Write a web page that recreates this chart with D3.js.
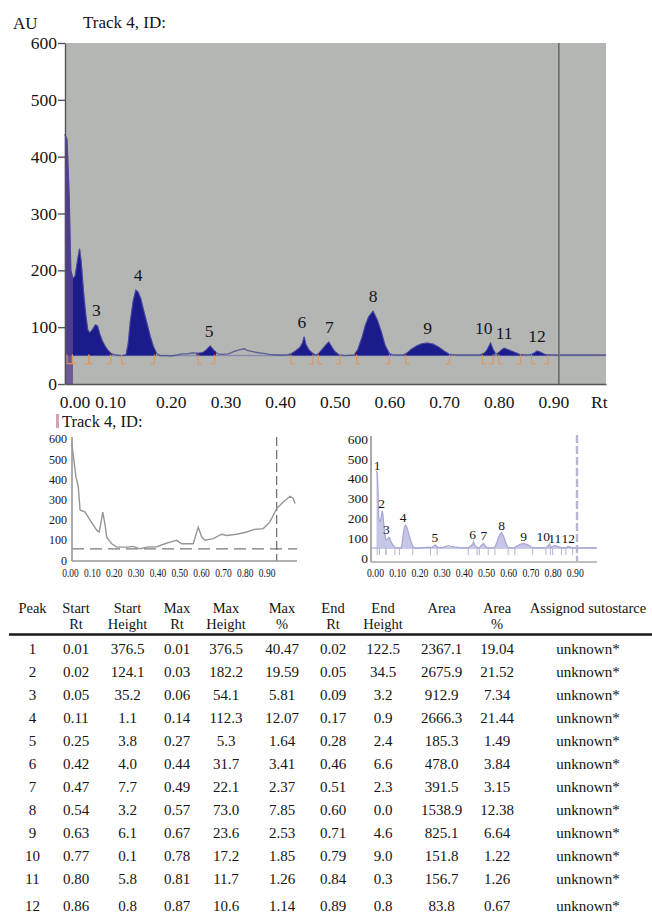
<!DOCTYPE html>
<html>
<head>
<meta charset="utf-8">
<script src="https://cdn.jsdelivr.net/npm/d3@7"></script>
<style>
  body { margin: 0; background: #fff; }
  svg, svg text { font-family: "Liberation Serif", "Times New Roman", Times, "DejaVu Serif", serif !important; }
  svg text { fill: #141414; }
</style>
</head>
<body>
<svg id="fig" width="652" height="920" font-family="Liberation Serif, Times New Roman, serif"></svg>
<script>
// densitogram of track 4 (Rt, AU)
const traceRt = [0.006, 0.010, 0.014, 0.017, 0.021, 0.025, 0.029, 0.033, 0.036, 0.040, 0.044, 0.048,
  0.052, 0.057, 0.062, 0.066, 0.070, 0.075, 0.080, 0.086, 0.092, 0.100, 0.110, 0.118, 0.122, 0.126,
  0.131, 0.136, 0.140, 0.145, 0.150, 0.156, 0.162, 0.168, 0.174, 0.180, 0.190, 0.200, 0.210, 0.220,
  0.230, 0.240, 0.250, 0.258, 0.265, 0.272, 0.278, 0.286, 0.295, 0.305, 0.315, 0.325, 0.335, 0.340,
  0.350, 0.360, 0.370, 0.380, 0.395, 0.410, 0.420, 0.428, 0.436, 0.441, 0.444, 0.447, 0.452, 0.458,
  0.465, 0.470, 0.478, 0.485, 0.489, 0.494, 0.500, 0.508, 0.520, 0.535, 0.542, 0.550, 0.556, 0.562,
  0.570, 0.578, 0.585, 0.592, 0.600, 0.610, 0.625, 0.633, 0.640, 0.650, 0.660, 0.670, 0.680, 0.690,
  0.700, 0.710, 0.725, 0.745, 0.765, 0.775, 0.780, 0.785, 0.790, 0.795, 0.800, 0.805, 0.810, 0.818,
  0.828, 0.838, 0.850, 0.860, 0.866, 0.870, 0.876, 0.884, 0.900, 0.950, 0.996]
const traceAU = [440, 430, 330, 200, 185, 190, 215, 238, 215, 165, 125, 95,
  90, 96, 104, 102, 88, 75, 66, 58, 53, 51, 50, 51, 70, 110,
  145, 165, 162, 150, 130, 108, 85, 66, 54, 50, 50, 49, 51, 53,
  53, 55, 54, 55, 60, 67, 60, 53, 52, 53, 57, 60, 62, 59,
  57, 55, 54, 52, 51, 51, 53, 58, 64, 72, 83, 70, 61, 55,
  51, 53, 62, 70, 74, 66, 57, 51, 50, 51, 60, 82, 103, 118,
  128, 112, 92, 68, 53, 51, 51, 55, 61, 67, 71, 72, 70, 65,
  58, 52, 51, 51, 51, 55, 62, 72, 60, 53, 55, 60, 63, 60,
  56, 52, 51, 52, 55, 58, 56, 52, 51, 51, 51]

// raw scan shown in the left inset (Rt, AU)
const scanRt = [0.008, 0.027, 0.038, 0.046, 0.069, 0.092, 0.122, 0.134, 0.150, 0.160, 0.168, 0.191,
  0.214, 0.259, 0.290, 0.320, 0.351, 0.397, 0.435, 0.458, 0.488, 0.511, 0.564, 0.587, 0.603, 0.618,
  0.656, 0.694, 0.717, 0.763, 0.809, 0.839, 0.885, 0.915, 0.946, 0.976, 1.007, 1.022, 1.030]
const scanAU = [582, 415, 365, 250, 240, 200, 150, 141, 240, 180, 115, 83,
  66, 66, 70, 58, 66, 68, 83, 91, 100, 83, 83, 165, 116, 100,
  108, 130, 124, 130, 141, 153, 158, 191, 257, 290, 318, 307, 282]

// peak table
const peaks = [1, 2, 3, 4, 5, 6, 7, 8, 9, 10, 11, 12]
const startRt = [0.01, 0.02, 0.05, 0.11, 0.25, 0.42, 0.47, 0.54, 0.63, 0.77, 0.80, 0.86]
const startHeight = [376.5, 124.1, 35.2, 1.1, 3.8, 4.0, 7.7, 3.2, 6.1, 0.1, 5.8, 0.8]
const maxRt = [0.01, 0.03, 0.06, 0.14, 0.27, 0.44, 0.49, 0.57, 0.67, 0.78, 0.81, 0.87]
const maxHeight = [376.5, 182.2, 54.1, 112.3, 5.3, 31.7, 22.1, 73.0, 23.6, 17.2, 11.7, 10.6]
const maxPct = [40.47, 19.59, 5.81, 12.07, 1.64, 3.41, 2.37, 7.85, 2.53, 1.85, 1.26, 1.14]
const endRt = [0.02, 0.05, 0.09, 0.17, 0.28, 0.46, 0.51, 0.60, 0.71, 0.79, 0.84, 0.89]
const endHeight = [122.5, 34.5, 3.2, 0.9, 2.4, 6.6, 2.3, 0.0, 4.6, 9.0, 0.3, 0.8]
const area = [2367.1, 2675.9, 912.9, 2666.3, 185.3, 478.0, 391.5, 1538.9, 825.1, 151.8, 156.7, 83.8]
const areaPct = [19.04, 21.52, 7.34, 21.44, 1.49, 3.84, 3.15, 12.38, 6.64, 1.22, 1.26, 0.67]
const assigned = ['unknown*', 'unknown*', 'unknown*', 'unknown*', 'unknown*', 'unknown*',
  'unknown*', 'unknown*', 'unknown*', 'unknown*', 'unknown*', 'unknown*']

const yTicks = [0, 100, 200, 300, 400, 500, 600]
const xTicks = [0, 0.1, 0.2, 0.3, 0.4, 0.5, 0.6, 0.7, 0.8, 0.9]
const baselineAU = 50
const frontRt = 0.91
const scanBaselineAU = 58
const scanFrontRt = 0.946

const headers = [['Peak', ''], ['Start', 'Rt'], ['Start', 'Height'], ['Max', 'Rt'], ['Max', 'Height'],
  ['Max', '%'], ['End', 'Rt'], ['End', 'Height'], ['Area', ''], ['Area', '%'], ['Assignod sutostarce', '']]

const svg = d3.select('#fig')
const trace = traceRt.map((rt, i) => ({ rt, au: traceAU[i] }))
const scan = scanRt.map((rt, i) => ({ rt, au: scanAU[i] }))

/**
 * Highest trace value inside the integration window of a peak
 */
function peakTop (i) {
  return d3.max(trace.filter(d => d.rt >= startRt[i] && d.rt <= endRt[i]), d => d.au)
}

function styleAxisText (axis, size) {
  axis.attr('font-family', null)
  axis.selectAll('text').attr('font-size', size).attr('fill', '#141414')
}

function drawMainChart () {
  const x = d3.scaleLinear().domain([0.0064, 0.9963]).range([65, 606])
  const y = d3.scaleLinear().domain([0, 600]).range([384, 43])
  const g = svg.append('g')

  g.append('rect')
    .attr('x', x.range()[0]).attr('y', y(600))
    .attr('width', x.range()[1] - x.range()[0]).attr('height', y(0) - y(600))
    .attr('fill', '#b4b6b4')

  // baseline
  g.append('line')
    .attr('x1', x.range()[0]).attr('x2', x.range()[1])
    .attr('y1', y(baselineAU)).attr('y2', y(baselineAU))
    .attr('stroke', '#8a8aae').attr('stroke-width', 1.5)

  // peak fills, clipped to the integration windows
  const clip = svg.append('defs').append('clipPath').attr('id', 'main-peaks')
  clip.selectAll('rect')
    .data(peaks)
    .enter()
    .append('rect')
    .attr('x', (d, i) => x(startRt[i]) - 1.5)
    .attr('width', (d, i) => x(endRt[i]) - x(startRt[i]) + 3)
    .attr('y', y(600))
    .attr('height', y(baselineAU) - y(600) + 0.5)

  const area = d3.area()
    .x(d => x(d.rt))
    .y0(y(baselineAU))
    .y1(d => y(Math.max(d.au, baselineAU)))
  const line = d3.line().x(d => x(d.rt)).y(d => y(d.au))

  g.append('path')
    .datum(trace)
    .attr('d', line)
    .attr('fill', 'none')
    .attr('stroke', '#3d4386')
    .attr('stroke-opacity', 0.75)
    .attr('stroke-width', 1.3)

  g.append('path')
    .datum(trace)
    .attr('clip-path', 'url(#main-peaks)')
    .attr('d', area)
    .attr('fill', '#1c1b8c')
    .attr('stroke', '#4a4aa8')
    .attr('stroke-width', 0.8)

  // first peak is highlighted in a purple tone
  g.append('path')
    .datum(trace.filter(d => d.rt <= endRt[0] + 0.003))
    .attr('d', d3.area().x(d => x(d.rt)).y0(y(0)).y1(d => y(d.au)))
    .attr('fill', '#5b4590')
    .attr('opacity', 0.8)

  // start / end markers
  const marks = g.append('g')
    .attr('fill', 'none')
    .attr('stroke', '#e0955a')
    .attr('stroke-width', 1.2)
    .attr('stroke-opacity', 0.9)
  peaks.forEach((p, i) => {
    const y0 = y(baselineAU) - 1
    const y1 = y(baselineAU) + 8
    const xs = x(startRt[i])
    const xe = x(endRt[i])
    marks.append('path').attr('d', `M${xs},${y0}V${y1}H${xs + 4}`)
    marks.append('path').attr('d', `M${xe},${y0}V${y1}H${xe - 4}`)
  })

  // solvent front
  g.append('line')
    .attr('x1', x(frontRt)).attr('x2', x(frontRt))
    .attr('y1', y(600)).attr('y2', y(0))
    .attr('stroke', '#6a6c6a').attr('stroke-width', 1.6)

  // peak numbers 3..12
  const nudge = { 3: 2, 10: -4 }
  g.selectAll('.peak-label')
    .data(peaks.slice(2))
    .enter()
    .append('text')
    .attr('class', 'peak-label')
    .attr('x', d => x(maxRt[d - 1]) + (nudge[d] || 0))
    .attr('y', d => y(peakTop(d - 1)) - 9)
    .attr('text-anchor', 'middle')
    .attr('font-size', 17.5)
    .text(d => d)

  const yAxis = g.append('g')
    .attr('transform', `translate(${x.range()[0]},0)`)
    .call(d3.axisLeft(y).tickValues(yTicks).tickSize(7).tickPadding(1).tickSizeOuter(0))
  yAxis.selectAll('line, path').attr('stroke', '#555').attr('stroke-width', 1.4)
  styleAxisText(yAxis, 17.5)

  const xAxis = g.append('g')
    .attr('transform', `translate(0,${y(0)})`)
    .call(d3.axisBottom(x).tickValues(xTicks).tickFormat(d3.format('.2f')).tickSize(0).tickPadding(12).tickSizeOuter(0))
  xAxis.select('.domain').attr('stroke', '#555').attr('stroke-width', 1.6)
  styleAxisText(xAxis, 17.5)
  xAxis.selectAll('text').attr('dx', d => d === 0 ? 13 : d === 0.1 ? -6 : 0)

  g.append('text').attr('x', 591).attr('y', 408).attr('font-size', 17.5).text('Rt')
  g.append('text').attr('x', 13).attr('y', 29).attr('font-size', 17).text('AU')
  g.append('text').attr('x', 83).attr('y', 28).attr('font-size', 17).text('Track 4, ID:')
}

function drawScanInset () {
  const x = d3.scaleLinear().domain([0, 1.04]).range([70, 297.2])
  const y = d3.scaleLinear().domain([0, 600]).range([560.5, 439.3])
  const g = svg.append('g')

  g.append('rect').attr('x', 56).attr('y', 414).attr('width', 3).attr('height', 14).attr('fill', '#d8a2b6')
  g.append('text').attr('x', 62).attr('y', 427).attr('font-size', 16.5).text('Track 4, ID:')

  g.append('line')
    .attr('x1', 72).attr('x2', x.range()[1])
    .attr('y1', y(scanBaselineAU)).attr('y2', y(scanBaselineAU))
    .attr('stroke', '#7a7a7a').attr('stroke-width', 1.2).attr('stroke-dasharray', '12,6')
  g.append('line')
    .attr('x1', x(scanFrontRt)).attr('x2', x(scanFrontRt))
    .attr('y1', 437).attr('y2', 561)
    .attr('stroke', '#6a6a6a').attr('stroke-width', 1.2).attr('stroke-dasharray', '9,4')

  g.append('path')
    .datum(scan)
    .attr('d', d3.line().x(d => x(d.rt)).y(d => y(d.au)))
    .attr('fill', 'none')
    .attr('stroke', '#969696')
    .attr('stroke-width', 1.4)

  const yAxis = g.append('g')
    .attr('transform', 'translate(72,0)')
    .call(d3.axisLeft(y).tickValues(yTicks).tickSize(0).tickPadding(5).tickSizeOuter(0))
  yAxis.select('.domain').attr('d', 'M0,437V561').attr('stroke', '#999').attr('stroke-width', 1.6)
  styleAxisText(yAxis, 12)
  yAxis.selectAll('text').attr('dy', '0.3em')

  const xAxis = g.append('g')
    .attr('transform', 'translate(0,561)')
    .call(d3.axisBottom(x).tickValues(xTicks).tickFormat(d3.format('.2f')).tickSize(0).tickPadding(8).tickSizeOuter(0))
  xAxis.select('.domain').attr('d', 'M72,0H297').attr('stroke', '#999').attr('stroke-width', 1.4)
  styleAxisText(xAxis, 11.5)
  xAxis.selectAll('text').attr('textLength', 16.5).attr('lengthAdjust', 'spacingAndGlyphs')
}

function drawPeakInset () {
  const x = d3.scaleLinear().domain([0, 1]).range([375, 597])
  const y = d3.scaleLinear().domain([0, 600]).range([558, 439])
  const g = svg.append('g')

  g.append('line')
    .attr('x1', 371).attr('x2', 597)
    .attr('y1', y(baselineAU)).attr('y2', y(baselineAU))
    .attr('stroke', '#b8b8de').attr('stroke-width', 1.5)

  const clip = svg.select('defs').append('clipPath').attr('id', 'inset-peaks')
  clip.selectAll('rect')
    .data(peaks)
    .enter()
    .append('rect')
    .attr('x', (d, i) => x(startRt[i]) - 1)
    .attr('width', (d, i) => x(endRt[i]) - x(startRt[i]) + 2)
    .attr('y', y(600))
    .attr('height', y(baselineAU) - y(600))

  g.append('path')
    .datum(trace)
    .attr('clip-path', 'url(#inset-peaks)')
    .attr('d', d3.area().x(d => x(d.rt)).y0(y(baselineAU)).y1(d => y(Math.max(d.au, baselineAU))))
    .attr('fill', '#c6c6e6')

  g.append('path')
    .datum(trace)
    .attr('d', d3.line().x(d => x(d.rt)).y(d => y(d.au)))
    .attr('fill', 'none')
    .attr('stroke', '#a6a6d4')
    .attr('stroke-width', 1.2)

  const marks = g.append('g').attr('stroke', '#b4b4d6').attr('stroke-width', 1)
  peaks.forEach((p, i) => {
    [startRt[i], endRt[i]].forEach(rt => {
      marks.append('line')
        .attr('x1', x(rt)).attr('x2', x(rt))
        .attr('y1', y(baselineAU) - 1).attr('y2', y(baselineAU) + 7)
    })
  })

  g.append('line')
    .attr('x1', x(frontRt)).attr('x2', x(frontRt))
    .attr('y1', 435).attr('y2', 561)
    .attr('stroke', '#b6b6d0').attr('stroke-width', 2.4).attr('stroke-dasharray', '8,3')

  const nudge = { 3: -2, 4: -3, 10: -5 }
  g.selectAll('.inset-label')
    .data(peaks)
    .enter()
    .append('text')
    .attr('class', 'inset-label')
    .attr('x', d => x(maxRt[d - 1]) + (nudge[d] || 0))
    .attr('y', d => y(peakTop(d - 1)) - 3)
    .attr('text-anchor', 'middle')
    .attr('font-size', 13.5)
    .text(d => d)

  const yAxis = g.append('g')
    .attr('transform', 'translate(371,0)')
    .call(d3.axisLeft(y).tickValues(yTicks).tickSize(0).tickPadding(3).tickSizeOuter(0))
  yAxis.select('.domain').attr('d', 'M0,436V562').attr('stroke', '#aaa').attr('stroke-width', 2)
  styleAxisText(yAxis, 13.5)

  const xAxis = g.append('g')
    .attr('transform', 'translate(0,562)')
    .call(d3.axisBottom(x).tickValues(xTicks).tickFormat(d3.format('.2f')).tickSize(0).tickPadding(6).tickSizeOuter(0))
  xAxis.select('.domain').attr('d', 'M371,0H597').attr('stroke', '#aaa').attr('stroke-width', 1.4)
  styleAxisText(xAxis, 12.5)
  xAxis.selectAll('text').attr('textLength', 17).attr('lengthAdjust', 'spacingAndGlyphs')
}

function drawTable () {
  const colX = [32.5, 76, 127.5, 177, 226, 282, 333, 383, 441.5, 497, 588]
  const fmt2 = d3.format('.2f')
  const fmt1 = d3.format('.1f')
  const columns = [
    peaks.map(String),
    startRt.map(fmt2),
    startHeight.map(fmt1),
    maxRt.map(fmt2),
    maxHeight.map(fmt1),
    maxPct.map(fmt2),
    endRt.map(fmt2),
    endHeight.map(fmt1),
    area.map(fmt1),
    areaPct.map(fmt2),
    assigned
  ]
  const rowY = d3.scaleLinear().domain([0, 10]).range([654, 884])
  const g = svg.append('g').attr('text-anchor', 'middle')

  headers.forEach((h, c) => {
    g.append('text').attr('x', colX[c]).attr('y', 612.5).attr('font-size', 14.5).text(h[0])
    if (h[1]) g.append('text').attr('x', colX[c]).attr('y', 628.5).attr('font-size', 14.5).text(h[1])
  })
  g.append('line')
    .attr('x1', 9).attr('x2', 652)
    .attr('y1', 634.5).attr('y2', 634.5)
    .attr('stroke', '#1a1a1a').attr('stroke-width', 2.4)

  columns.forEach((col, c) => {
    g.selectAll(null)
      .data(col)
      .enter()
      .append('text')
      .attr('x', colX[c])
      .attr('y', (d, i) => rowY(i) + (i === 11 ? 4 : 0))
      .attr('font-size', 15)
      .text(d => d)
  })
}

drawMainChart()
drawScanInset()
drawPeakInset()
drawTable()
</script>
</body>
</html>
